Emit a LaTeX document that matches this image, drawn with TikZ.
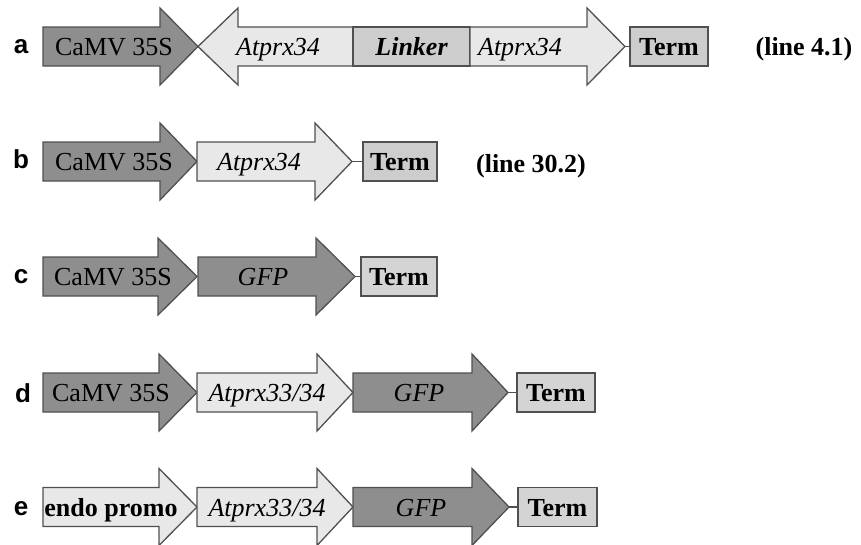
\documentclass[tikz,border=0pt]{standalone}
\usepackage{fontspec}
\setmainfont{Liberation Serif}
\newfontfamily\labfont{Liberation Sans}
\definecolor{darkfill}{RGB}{142,142,142}
\definecolor{lightfill}{RGB}{232,232,232}
\definecolor{midfill}{RGB}{205,205,205}
\definecolor{termfill}{RGB}{212,212,212}
\definecolor{edge}{RGB}{80,80,80}
\newcommand\rarr[6]{% name, x0, xb, xt, cy, fill
  \draw[shp, fill=#6] (#2,#5-19.5) -- (#3,#5-19.5) -- (#3,#5-38.5) -- (#4,#5)
    -- (#3,#5+38.5) -- (#3,#5+19.5) -- (#2,#5+19.5) -- cycle;
  \coordinate (#1tip) at (#4,#5);}
\newcommand\larr[6]{% name, xt, xb, x1, cy, fill
  \draw[shp, fill=#6] (#4,#5-19.5) -- (#3,#5-19.5) -- (#3,#5-38.5) -- (#2,#5)
    -- (#3,#5+38.5) -- (#3,#5+19.5) -- (#4,#5+19.5) -- cycle;
  \coordinate (#1tip) at (#2,#5);}
\tikzset{
  shp/.style={draw=edge, line width=1.3pt, line join=miter},
  txt/.style={inner sep=0pt, text height=18pt, text depth=0pt,
    font=\fontsize{26}{30}\selectfont},
  rowlab/.style={inner sep=0pt, anchor=base,
    font=\labfont\bfseries\fontsize{26}{30}\selectfont},
  linelab/.style={inner sep=0pt, anchor=base,
    font=\bfseries\fontsize{26}{30}\selectfont},
  boxnode/.style={draw=edge, line width=1.3pt, inner sep=0pt,
    minimum height=39pt, text height=18pt, text depth=0pt,
    font=\fontsize{26}{30}\selectfont},
  conn/.style={draw=edge, line width=1.3pt},
}
\begin{document}
\begin{tikzpicture}[x=1pt,y=-1pt]
\useasboundingbox (0,0) rectangle (861,544);
% ---------- row a ----------
\node[rowlab] (la) at (21,53) {a};
\rarr{a1}{43}{160}{198}{46.5}{darkfill}
\larr{a2}{198}{238}{353}{46.5}{lightfill}
\node[boxnode, fill=midfill, minimum width=117pt] (alink) at (411.5,46.5) {\bfseries\itshape Linker};
\rarr{a3}{470}{587}{625}{46.5}{lightfill}
\node[boxnode, fill=midfill, minimum width=78pt] (aterm) at (669,46.5) {\bfseries Term};
\draw[conn] (a3tip) -- (aterm.west);
\node[txt] (apro) at (114,46.5) {CaMV 35S};
\node[txt] (agen1) at (278,46.5) {\itshape Atprx34};
\node[txt] (agen2) at (520,46.5) {\itshape Atprx34};
\node[linelab] (lina) at (804,55) {(line 4.1)};
% ---------- row b ----------
\node[rowlab] (lb) at (21,168) {b};
\rarr{b1}{43}{160}{197}{161.5}{darkfill}
\rarr{b2}{197}{315}{352}{161.5}{lightfill}
\node[boxnode, fill=midfill, minimum width=74pt] (bterm) at (400,161.5) {\bfseries Term};
\draw[conn] (b2tip) -- (bterm.west);
\node[txt] (bpro) at (114,161.5) {CaMV 35S};
\node[txt] (bgen) at (259,161.5) {\itshape Atprx34};
\node[linelab] (linb) at (531,172) {(line 30.2)};
% ---------- row c ----------
\node[rowlab] (lc) at (21,283) {c};
\rarr{c1}{43}{158}{197}{276.5}{darkfill}
\rarr{c2}{198}{316}{355}{276.5}{darkfill}
\node[boxnode, fill=termfill, minimum width=76pt] (cterm) at (399,276.5) {\bfseries Term};
\draw[conn] (c2tip) -- (cterm.west);
\node[txt] (cpro) at (113,276.5) {CaMV 35S};
\node[txt] (cgen) at (263,276.5) {\itshape GFP};
% ---------- row d ----------
\node[rowlab] (ld) at (23,402) {d};
\rarr{d1}{43}{159}{197}{392.5}{darkfill}
\rarr{d2}{197}{317}{353}{392.5}{lightfill}
\rarr{d3}{353}{472}{508}{392.5}{darkfill}
\node[boxnode, fill=termfill, minimum width=78pt] (dterm) at (556,392.5) {\bfseries Term};
\draw[conn] (d3tip) -- (dterm.west);
\node[txt] (dpro) at (111,392.5) {CaMV 35S};
\node[txt] (dgen1) at (267,392.5) {\itshape Atprx33/34};
\node[txt] (dgen2) at (419,392.5) {\itshape GFP};
% ---------- row e ----------
\node[rowlab] (le) at (21,515) {e};
\rarr{e1}{43}{159}{197}{507}{lightfill}
\rarr{e2}{197}{317}{353}{507}{lightfill}
\rarr{e3}{353}{472}{509}{507}{darkfill}
\node[boxnode, fill=termfill, minimum width=79pt] (eterm) at (557.5,507) {\bfseries Term};
\draw[conn] (e3tip) -- (eterm.west);
\node[txt] (epro) at (111,507) {\bfseries endo promo};
\node[txt] (egen1) at (267,507) {\itshape Atprx33/34};
\node[txt] (egen2) at (421,507) {\itshape GFP};
\end{tikzpicture}
\end{document}
